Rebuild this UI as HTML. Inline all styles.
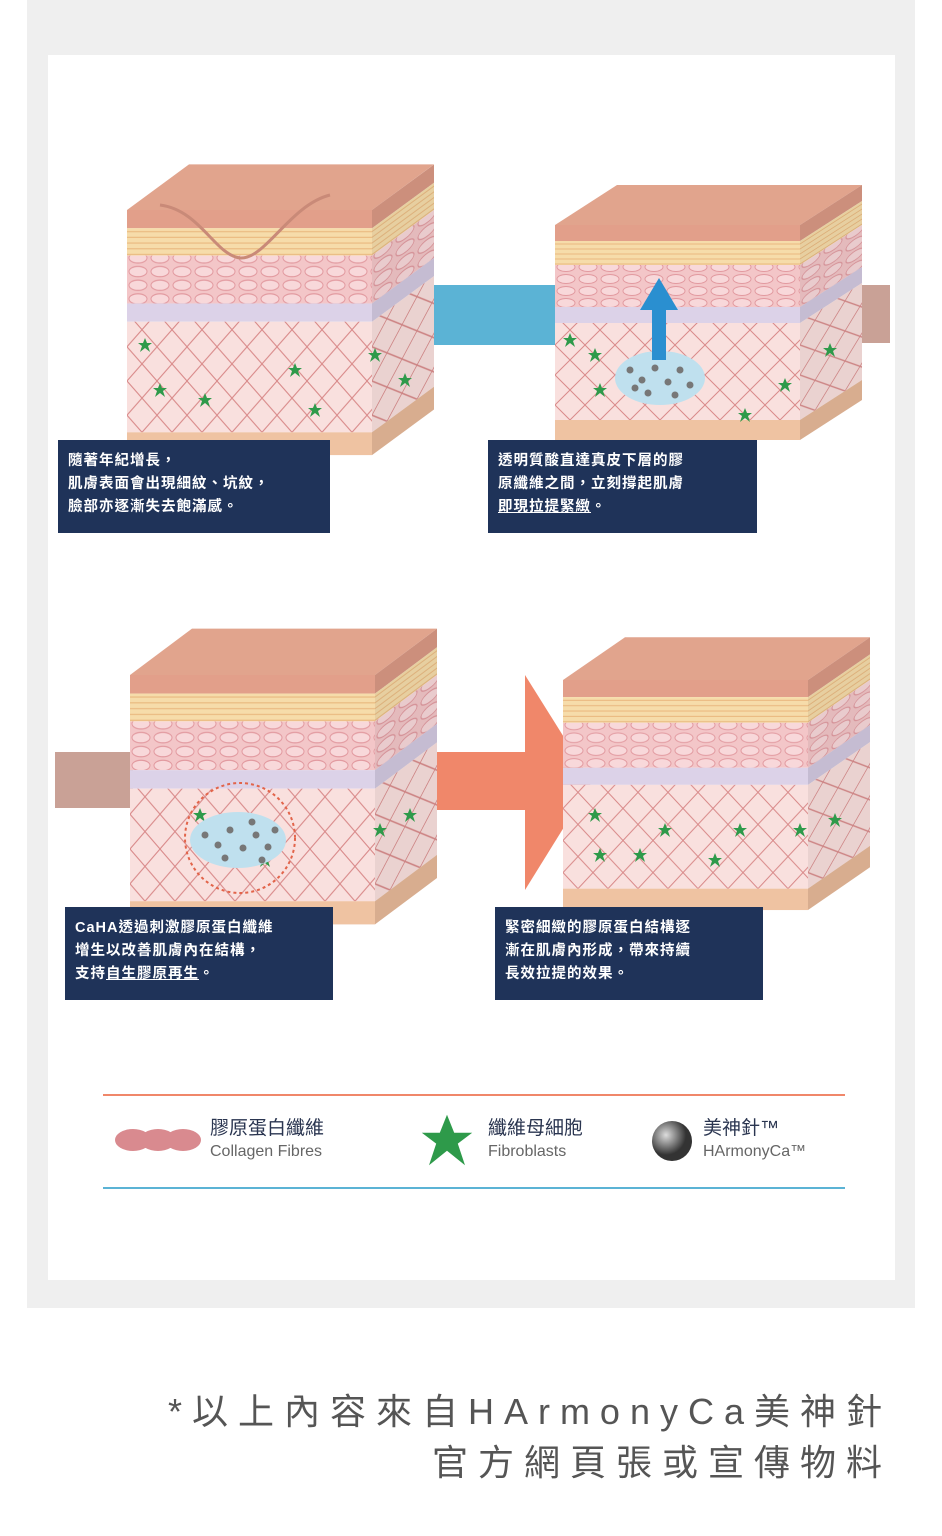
<!DOCTYPE html>
<html><head><meta charset="utf-8"><style>
body{margin:0;width:942px;height:1536px;background:#fff;position:relative;font-family:"Liberation Sans","Noto Sans CJK TC",sans-serif;overflow:hidden}
.grey{position:absolute;left:27px;top:0;width:888px;height:1308px;background:#efefef}
.card{position:absolute;left:48px;top:55px;width:847px;height:1225px;background:#fff}
.box{position:absolute;background:#1f3359;color:#fff;font-weight:bold;font-size:14.5px;line-height:23px;padding:10px 10px;letter-spacing:1px;box-sizing:border-box}
.box u{text-decoration:underline}
.lg{position:absolute;font-size:19px;color:#2a3550;line-height:24px}
.lg span{display:block;font-size:16px;color:#666;line-height:22px}
.foot{position:absolute;right:50px;top:1386px;text-align:right;font-size:36px;color:#555;letter-spacing:10px;line-height:51px;white-space:nowrap}
</style></head><body>
<div class="grey"></div><div class="card"></div>
<svg width="942" height="1536" style="position:absolute;left:0;top:0">
<defs>
<pattern id="cells" width="22" height="12" patternUnits="userSpaceOnUse"><rect width="22" height="12" fill="#f3c6c8"/><ellipse cx="11" cy="6" rx="9" ry="4.5" fill="#f8d8da" stroke="#e29aa0" stroke-width="1"/></pattern>
<pattern id="derm" width="30" height="30" patternUnits="userSpaceOnUse"><rect width="30" height="30" fill="#f9e0de"/><path d="M0 0L30 30M30 0L0 30" stroke="#d98a8a" stroke-width="1"/></pattern>
<pattern id="yel" width="12" height="5" patternUnits="userSpaceOnUse"><rect width="12" height="5" fill="#f6dcaa"/><path d="M0 4h12" stroke="#eab980" stroke-width="1"/></pattern>
<g id="block">
<polygon points="0,0 245,0 307,-40 62,-40" fill="#e1a48d"/>
<rect x="0" y="0" width="245" height="16" fill="#e29f8a"/>
<rect x="0" y="16" width="245" height="24" fill="url(#yel)"/>
<rect x="0" y="40" width="245" height="42" fill="url(#cells)"/>
<rect x="0" y="82" width="245" height="16" fill="#dcd2e8"/>
<rect x="0" y="98" width="245" height="97" fill="url(#derm)"/>
<rect x="0" y="195" width="245" height="20" fill="#efc3a2"/>
<g transform="translate(245,0) skewY(-32.8)">
<rect x="0" y="0" width="62" height="16" fill="#d99884"/>
<rect x="0" y="16" width="62" height="24" fill="url(#yel)"/>
<rect x="0" y="40" width="62" height="42" fill="url(#cells)"/>
<rect x="0" y="82" width="62" height="16" fill="#d2c8e0"/>
<rect x="0" y="98" width="62" height="97" fill="url(#derm)"/>
<rect x="0" y="195" width="62" height="20" fill="#e6b898"/>
<rect x="0" y="0" width="62" height="215" fill="#000" opacity="0.06"/>
</g>
</g>
<polygon id="star" points="0,-7 2,-2 7,-2 3,1 5,7 0,3 -5,7 -3,1 -7,-2 -2,-2" fill="#2e9a4a"/>
<radialGradient id="ball" cx="0.35" cy="0.35"><stop offset="0" stop-color="#ddd"/><stop offset="1" stop-color="#333"/></radialGradient>
</defs>
<rect x="430" y="285" width="128" height="60" fill="#5bb3d5"/>
<rect x="860" y="285" width="30" height="58" fill="#c9a196"/>
<rect x="55" y="752" width="78" height="56" fill="#c9a196"/>
<rect x="433" y="752" width="100" height="58" fill="#f0876a"/>
<polygon points="525,675 592,782 525,890" fill="#f0876a"/>
<use href="#block" transform="translate(127,210) scale(1,1.14)"/>
<path d="M160,205 C200,210 215,255 240,258 C265,260 290,205 330,195" stroke="#c98a78" stroke-width="3" fill="none"/>
<use href="#block" transform="translate(555,225)"/>
<use href="#block" transform="translate(130,675) scale(1,1.16)"/>
<use href="#block" transform="translate(563,680) scale(1,1.07)"/>
<use href="#star" x="145" y="345"/><use href="#star" x="160" y="390"/><use href="#star" x="205" y="400"/><use href="#star" x="295" y="370"/><use href="#star" x="315" y="410"/><use href="#star" x="375" y="355"/><use href="#star" x="405" y="380"/>
<use href="#star" x="570" y="340"/><use href="#star" x="595" y="355"/><use href="#star" x="600" y="390"/><use href="#star" x="745" y="415"/><use href="#star" x="785" y="385"/><use href="#star" x="830" y="350"/>
<use href="#star" x="200" y="815"/><use href="#star" x="265" y="860"/><use href="#star" x="380" y="830"/><use href="#star" x="410" y="815"/>
<use href="#star" x="595" y="815"/><use href="#star" x="600" y="855"/><use href="#star" x="640" y="855"/><use href="#star" x="665" y="830"/><use href="#star" x="715" y="860"/><use href="#star" x="740" y="830"/><use href="#star" x="800" y="830"/><use href="#star" x="835" y="820"/>
<ellipse cx="660" cy="378" rx="45" ry="27" fill="#bfe0ee"/>
<g fill="#777"><circle cx="630" cy="370" r="3.5"/><circle cx="642" cy="380" r="3.5"/><circle cx="655" cy="368" r="3.5"/><circle cx="668" cy="382" r="3.5"/><circle cx="680" cy="370" r="3.5"/><circle cx="690" cy="385" r="3.5"/><circle cx="648" cy="393" r="3.5"/><circle cx="662" cy="356" r="3.5"/><circle cx="675" cy="395" r="3.5"/><circle cx="635" cy="388" r="3.5"/></g>
<rect x="652" y="305" width="14" height="55" fill="#2a8fd0"/>
<polygon points="640,310 659,278 678,310" fill="#2a8fd0"/>
<circle cx="240" cy="838" r="55" fill="none" stroke="#e2644a" stroke-width="2" stroke-dasharray="3,3"/>
<ellipse cx="238" cy="840" rx="48" ry="28" fill="#bfe0ee"/>
<g fill="#777"><circle cx="205" cy="835" r="3.5"/><circle cx="218" cy="845" r="3.5"/><circle cx="230" cy="830" r="3.5"/><circle cx="243" cy="848" r="3.5"/><circle cx="256" cy="835" r="3.5"/><circle cx="268" cy="847" r="3.5"/><circle cx="225" cy="858" r="3.5"/><circle cx="252" cy="822" r="3.5"/><circle cx="262" cy="860" r="3.5"/><circle cx="275" cy="830" r="3.5"/></g>
<line x1="103" y1="1095" x2="845" y2="1095" stroke="#f0876a" stroke-width="2"/>
<line x1="103" y1="1188" x2="845" y2="1188" stroke="#5bb3d5" stroke-width="2"/>
<g fill="#d98a8f"><ellipse cx="133" cy="1140" rx="18" ry="11"/><ellipse cx="158" cy="1140" rx="18" ry="11"/><ellipse cx="183" cy="1140" rx="18" ry="11"/></g>
<use href="#star" transform="translate(447,1140) scale(3.6)"/>
<circle cx="672" cy="1141" r="20" fill="url(#ball)"/>
</svg>
<div class="box" style="left:58px;top:440px;width:272px;height:93px">隨著年紀增長，<br>肌膚表面會出現細紋、坑紋，<br>臉部亦逐漸失去飽滿感。</div>
<div class="box" style="left:488px;top:440px;width:269px;height:93px">透明質酸直達真皮下層的膠<br>原纖維之間，立刻撐起肌膚<br><u>即現拉提緊緻</u>。</div>
<div class="box" style="left:65px;top:907px;width:268px;height:93px">CaHA透過刺激膠原蛋白纖維<br>增生以改善肌膚內在結構，<br>支持<u>自生膠原再生</u>。</div>
<div class="box" style="left:495px;top:907px;width:268px;height:93px">緊密細緻的膠原蛋白結構逐<br>漸在肌膚內形成，帶來持續<br>長效拉提的效果。</div>
<div class="lg" style="left:210px;top:1117px">膠原蛋白纖維<span>Collagen Fibres</span></div>
<div class="lg" style="left:488px;top:1117px">纖維母細胞<span>Fibroblasts</span></div>
<div class="lg" style="left:703px;top:1117px">美神針™<span>HArmonyCa™</span></div>
<div class="foot">*以上內容來自HArmonyCa美神針<br>官方網頁張或宣傳物料</div>
</body></html>
